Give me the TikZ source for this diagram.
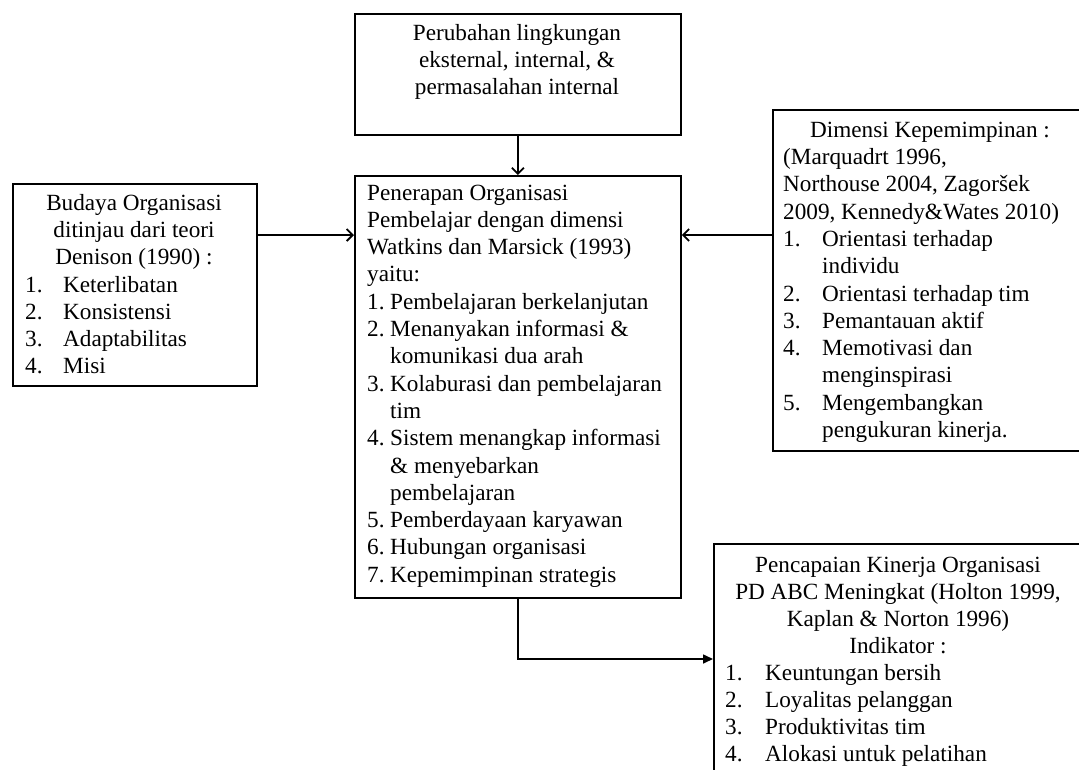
\documentclass[tikz,border=0pt]{standalone}
\usepackage{fontspec}
\setmainfont{Liberation Serif}
\usetikzlibrary{arrows.meta}
\newcommand\Tf{\fontsize{23.2}{27.3}\selectfont}
\tikzset{
  box/.style={draw, line width=1.8pt, minimum width=0pt, minimum height=0pt, inner sep=0pt, anchor=north west},
  txt/.style={inner sep=0pt, font=\Tf},
  arr/.style={line width=1.6pt, -{Straight Barb[length=6pt,width=12pt,line width=1.8pt]}},
  arrb/.style={line width=1.6pt, -{Triangle[length=10pt,width=9pt]}},
}
\begin{document}
\begin{tikzpicture}[x=1pt,y=-1pt]
\clip (0,0) rectangle (1079,769);
\fill[white] (0,0) rectangle (1079,769);
% boxes
\node[box, minimum width=326pt, minimum height=121pt] (top) at (354,13) {};
\node[box, minimum width=326pt, minimum height=422pt] (center) at (354,175) {};
\node[box, minimum width=244pt, minimum height=202pt] (left) at (12,183) {};
\node[box, minimum width=330pt, minimum height=341pt] (dim) at (772,109) {};
\node[box, minimum width=390pt, minimum height=260pt] (result) at (713,543) {};
% texts
\node[txt, anchor=base] (toptext) at (517,40) {\begin{tabular}[t]{@{}c@{}}Perubahan lingkungan\\ eksternal, internal, \&\\ permasalahan internal\end{tabular}};
\node[txt, anchor=base west] (centertext) at (367,200) {\begin{tabular}[t]{@{}p{23pt}@{}l@{}}
\multicolumn{2}{@{}l@{}}{Penerapan Organisasi}\\
\multicolumn{2}{@{}l@{}}{Pembelajar dengan dimensi}\\
\multicolumn{2}{@{}l@{}}{Watkins dan Marsick (1993)}\\
\multicolumn{2}{@{}l@{}}{yaitu:}\\
1.&Pembelajaran berkelanjutan\\
2.&Menanyakan informasi \&\\
&komunikasi dua arah\\
3.&Kolaburasi dan pembelajaran\\
&tim\\
4.&Sistem menangkap informasi\\
&\& menyebarkan\\
&pembelajaran\\
5.&Pemberdayaan karyawan\\
6.&Hubungan organisasi\\
7.&Kepemimpinan strategis
\end{tabular}};
\node[txt, anchor=base] (lefthead) at (134,210) {\begin{tabular}[t]{@{}c@{}}Budaya Organisasi\\ ditinjau dari teori\\ Denison (1990) :\end{tabular}};
\node[txt, anchor=base west] (leftlist) at (25,292) {\begin{tabular}[t]{@{}p{38pt}@{}l@{}}1.&Keterlibatan\\2.&Konsistensi\\3.&Adaptabilitas\\4.&Misi\end{tabular}};
\node[txt, anchor=base] (dimhead) at (930,137) {Dimensi Kepemimpinan :};
\node[txt, anchor=base west] (dimlist) at (783,164.5) {\begin{tabular}[t]{@{}p{39pt}@{}l@{}}
\multicolumn{2}{@{}l@{}}{(Marquadrt 1996,}\\
\multicolumn{2}{@{}l@{}}{Northouse 2004, Zagoršek}\\
\multicolumn{2}{@{}l@{}}{2009, Kennedy\&Wates 2010)}\\
1.&Orientasi terhadap\\
&individu\\
2.&Orientasi terhadap tim\\
3.&Pemantauan aktif\\
4.&Memotivasi dan\\
&menginspirasi\\
5.&Mengembangkan\\
&pengukuran kinerja.
\end{tabular}};
\node[txt, anchor=base] (reshead) at (898,572) {\begin{tabular}[t]{@{}c@{}}Pencapaian Kinerja Organisasi\\ PD ABC Meningkat (Holton 1999,\\ Kaplan \& Norton 1996)\\ Indikator :\end{tabular}};
\node[txt, anchor=base west] (reslist) at (725,680) {\begin{tabular}[t]{@{}p{40pt}@{}l@{}}1.&Keuntungan bersih\\2.&Loyalitas pelanggan\\3.&Produktivitas tim\\4.&Alokasi untuk pelatihan\end{tabular}};
% connectors
\draw[arr] (top.south) -- (center.north);
\draw[arr] (left.east |- 0,235) -- (center.west |- 0,235);
\draw[arr] (dim.west |- 0,235) -- (center.east |- 0,235);
\draw[arrb] (center.south) |- (result.west |- 0,659);
\end{tikzpicture}
\end{document}
